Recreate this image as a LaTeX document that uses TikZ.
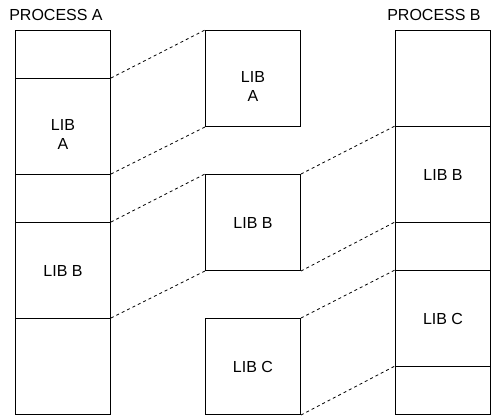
\documentclass[tikz,border=0pt]{standalone}
\usepackage{fontspec}
\setmainfont{Liberation Sans}
\begin{document}
\begin{tikzpicture}[x=1pt,y=-1pt,
  seg/.style={draw=black,line width=1pt,minimum width=95pt,inner sep=0pt,anchor=north west,align=center,font=\fontsize{16}{19.5}\selectfont},
  conn/.style={dashed,line width=0.8pt,dash pattern=on 3pt off 3pt},
  lbl/.style={font=\fontsize{16}{19.5}\selectfont,inner sep=0pt}]
\useasboundingbox (0,0) rectangle (497,417);
% left column
\node[seg,minimum height=48pt] (a1) at (15,30) {};
\node[seg,minimum height=96pt] (a2) at (15,78) {\strut\\LIB\\A\strut};
\node[seg,minimum height=48pt] (a3) at (15,174) {};
\node[seg,minimum height=96pt] (a4) at (15,222) {LIB B};
\node[seg,minimum height=96pt] (a5) at (15,318) {};
% middle
\node[seg,minimum height=96pt] (ma) at (205,30) {\strut\\LIB\\A\strut};
\node[seg,minimum height=96pt] (mb) at (205,174) {LIB B};
\node[seg,minimum height=96pt] (mc) at (205,318) {LIB C};
% right column
\node[seg,minimum height=96pt] (b1) at (395,30) {};
\node[seg,minimum height=96pt] (b2) at (395,126) {LIB B};
\node[seg,minimum height=48pt] (b3) at (395,222) {};
\node[seg,minimum height=96pt] (b4) at (395,270) {LIB C};
\node[seg,minimum height=48pt] (b5) at (395,366) {};
% titles
\node[lbl] (ta) at (56,15) {PROCESS A};
\node[lbl] (tb) at (434,15) {PROCESS B};
% connectors
\draw[conn] (a2.north east) -- (ma.north west);
\draw[conn] (a3.north east) -- (ma.south west);
\draw[conn] (a4.north east) -- (mb.north west);
\draw[conn] (a5.north east) -- (mb.south west);
\draw[conn] (mb.north east) -- (b2.north west);
\draw[conn] (mb.south east) -- (b3.north west);
\draw[conn] (mc.north east) -- (b4.north west);
\draw[conn] (mc.south east) -- (b5.north west);
\end{tikzpicture}
\end{document}
